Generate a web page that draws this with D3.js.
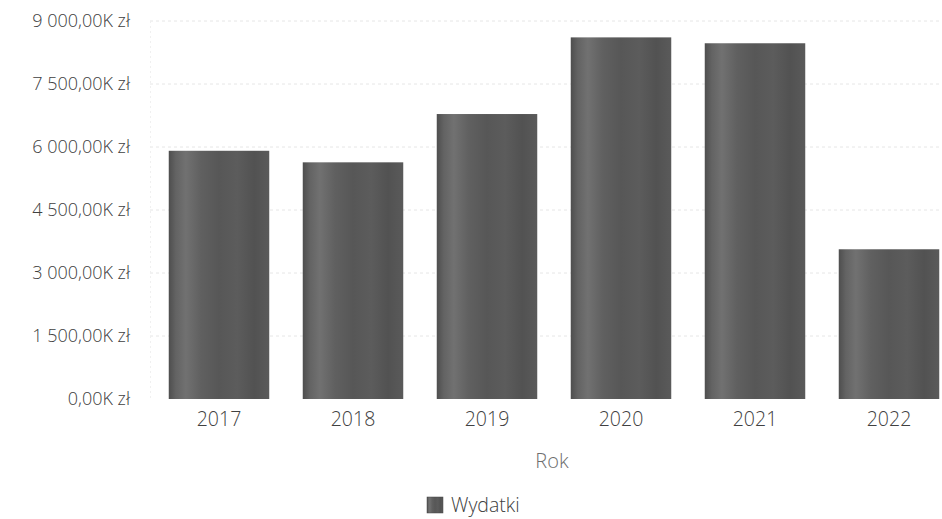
<!DOCTYPE html>
<html><head><meta charset="utf-8">
<script src="https://cdn.jsdelivr.net/npm/d3@7"></script>
<style>body{margin:0;background:#fff}svg{display:block;font-family:"Open Sans",sans-serif}</style>
</head><body><svg id="c" width="942" height="519"></svg>
<script>
const years = ["2017","2018","2019","2020","2021","2022"];
const wydatki = [5910, 5635, 6785, 8610, 8470, 3565];
const yTicks = [0, 1500, 3000, 4500, 6000, 7500, 9000];
const seriesName = "Wydatki";
const xTitle = "Rok";

const svg = d3.select("#c");
const x = d3.scaleBand().domain(years).range([152, 956]).paddingInner(0.25).paddingOuter(0.125);
const y = d3.scaleLinear().domain([0, 9000]).range([399, 21]);

const defs = svg.append("defs");
const g = defs.append("linearGradient").attr("id","bg").attr("x1","0").attr("x2","1").attr("y1","0").attr("y2","0");
[[0,"#4e4e4e"],[0.07,"#636363"],[0.17,"#717171"],[0.32,"#606060"],[0.5,"#575757"],[0.68,"#5c5c5c"],[0.85,"#525252"],[1,"#5a5a5a"]]
  .forEach(([o,c])=>g.append("stop").attr("offset",o).attr("stop-color",c));

const fmt = v => d3.format(",.2f")(v).replace(/,/g," ").replace(".",",") + "K zł";

// gridlines
svg.append("g").selectAll("line").data(yTicks.filter(t=>t>0)).join("line")
  .attr("x1",150).attr("x2",942).attr("y1",d=>y(d)).attr("y2",d=>y(d))
  .attr("stroke","#e6e6e6").attr("stroke-width",1).attr("stroke-dasharray","3,3");
svg.append("line").attr("x1",150.5).attr("x2",150.5).attr("y1",21).attr("y2",399)
  .attr("stroke","#f0f0f0").attr("stroke-dasharray","2,3");

// y axis
const ya = svg.append("g").attr("transform","translate(130,0)")
  .call(d3.axisLeft(y).tickValues(yTicks).tickFormat(fmt).tickSize(0).tickPadding(0));
ya.select(".domain").remove();
ya.selectAll("text").attr("font-size",18).attr("fill","#404040").attr("font-weight",300).attr("font-family","Open Sans, sans-serif").attr("dy","0.32em");

// bars
svg.append("g").selectAll("rect").data(years).join("rect")
  .attr("x",d=>x(d)).attr("width",x.bandwidth())
  .attr("y",(d,i)=>y(wydatki[i])).attr("height",(d,i)=>y(0)-y(wydatki[i]))
  .attr("fill","url(#bg)");

// x axis
const xa = svg.append("g").attr("transform","translate(0,399)")
  .call(d3.axisBottom(x).tickSize(0).tickPadding(13));
xa.select(".domain").remove();
xa.selectAll("text").attr("font-size",19.5).attr("fill","#404040").attr("font-weight",300).attr("font-family","Open Sans, sans-serif");

svg.append("text").attr("x",552).attr("y",461).attr("dy","0.35em").attr("text-anchor","middle")
  .attr("font-size",20).attr("font-weight",300).attr("fill","#6e6e6e").text(xTitle);

// legend
const lg = svg.append("g").attr("transform","translate(427,497)");
lg.append("rect").attr("width",16).attr("height",16).attr("fill","url(#bg)").attr("stroke","#444").attr("stroke-width",0.5);
lg.append("text").attr("x",24).attr("y",8.5).attr("dy","0.35em").attr("font-size",19.5).attr("font-weight",300).attr("fill","#404040").text(seriesName);
</script></body></html>
